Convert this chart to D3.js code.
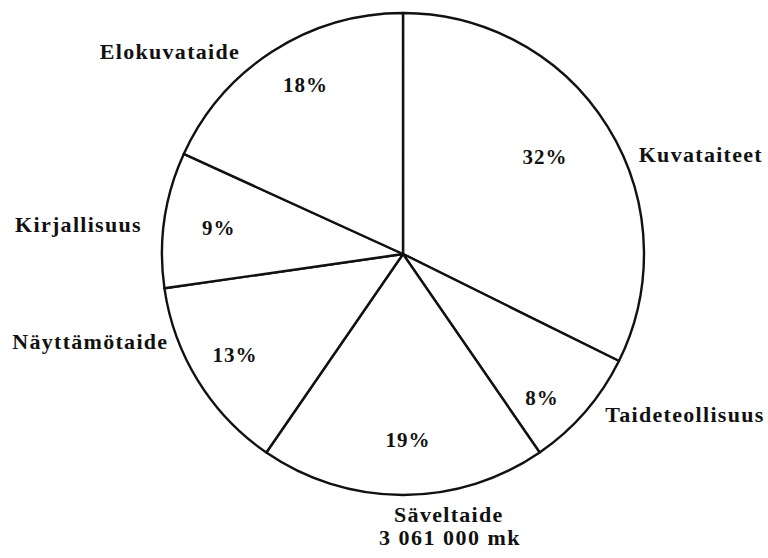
<!DOCTYPE html>
<html>
<head>
<meta charset="utf-8">
<script src="https://cdn.jsdelivr.net/npm/d3@7"></script>
<style>
  body { margin: 0; background: #fff; }
  svg text { font-family: "Liberation Serif", "DejaVu Serif", serif; fill: #111; }
</style>
</head>
<body>
<div id="chart"></div>
<script>
// data
const categories = ['Kuvataiteet', 'Taideteollisuus', 'Säveltaide', 'Näyttämötaide', 'Kirjallisuus', 'Elokuvataide'];
const shares = [32, 8, 19, 13, 9, 18];
const totalLabel = '3 061 000 mk';

// label placement (angle in degrees from 12 o'clock, radius in px)
const nameLayout = [
	{ angle: 68.7, r: 253, anchor: 'start' },
	{ angle: 129.7, r: 263, anchor: 'start' },
	{ angle: 170.3, r: 272, anchor: 'middle' },
	{ angle: 248, r: 253, anchor: 'end' },
	{ angle: 274.8, r: 262, anchor: 'end' },
	{ angle: 320.1, r: 254, anchor: 'end' },
];
const pctLayout = [
	{ angle: 55.7, r: 172 },
	{ angle: 136, r: 200 },
	{ angle: 178.5, r: 186 },
	{ angle: 239, r: 196 },
	{ angle: 278, r: 186 },
	{ angle: 330, r: 195 },
];

const width = 768, height = 558;
const cx = 403, cy = 254, radius = 241;

const polar = (a, r) => [r * Math.sin(a * Math.PI / 180), -r * Math.cos(a * Math.PI / 180)];

let svg = d3.select('#chart').append('svg')
	.attr('width', width)
	.attr('height', height);

let g = svg.append('g')
	.attr('transform', `translate(${cx},${cy})`);

let pie = d3.pie().sort(null).value(d => d)(shares);
let arc = d3.arc().innerRadius(0).outerRadius(radius);

g.selectAll('path.slice')
	.data(pie)
	.enter().append('path')
	.attr('class', 'slice')
	.attr('d', arc)
	.attr('fill', '#fff')
	.attr('stroke', '#111')
	.attr('stroke-width', 2.4)
	.attr('stroke-linejoin', 'round');

// percent labels
g.selectAll('text.pct')
	.data(pie)
	.enter().append('text')
	.attr('class', 'pct')
	.attr('x', (d, i) => polar(pctLayout[i].angle, pctLayout[i].r)[0])
	.attr('y', (d, i) => polar(pctLayout[i].angle, pctLayout[i].r)[1])
	.attr('text-anchor', 'middle')
	.attr('dy', '0.35em')
	.style('font-size', '21px')
	.style('font-weight', 'bold')
	.style('letter-spacing', '1px')
	.text(d => d.data + '%');

// category names
g.selectAll('text.name')
	.data(categories)
	.enter().append('text')
	.attr('class', 'name')
	.attr('x', (d, i) => polar(nameLayout[i].angle, nameLayout[i].r)[0])
	.attr('y', (d, i) => polar(nameLayout[i].angle, nameLayout[i].r)[1])
	.attr('text-anchor', (d, i) => nameLayout[i].anchor)
	.style('font-size', '22px')
	.style('font-weight', 'bold')
	.style('letter-spacing', '1.3px')
	.text(d => d);

svg.append('text')
	.attr('x', 450)
	.attr('y', 545)
	.attr('text-anchor', 'middle')
	.style('font-size', '22px')
	.style('font-weight', 'bold')
	.style('letter-spacing', '1.5px')
	.text(totalLabel);
</script>
</body>
</html>
